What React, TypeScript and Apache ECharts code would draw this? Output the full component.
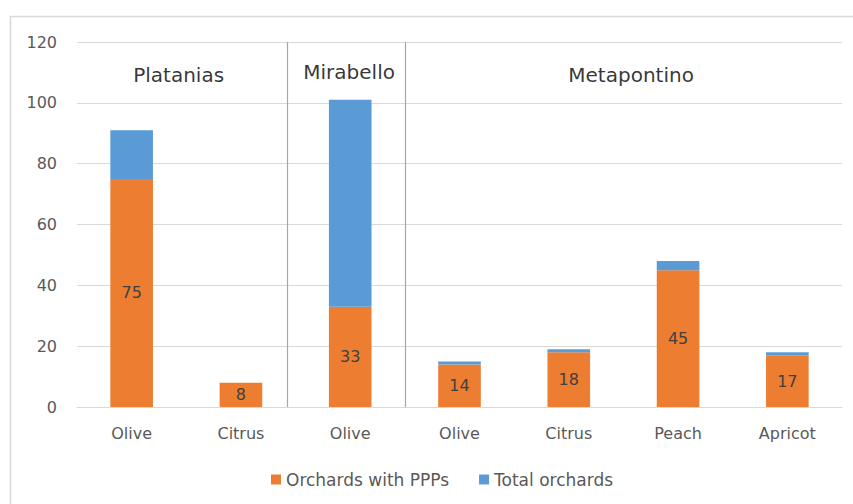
import React, { useEffect, useRef } from "react";
import * as echarts from "echarts";

const categories = ["Olive", "Citrus", "Olive", "Olive", "Citrus", "Peach", "Apricot"];
const pppValues = [75, 8, 33, 14, 18, 45, 17];
const totalValues = [91, 8, 101, 15, 19, 48, 18];
const yTicks = { min: 0, max: 120, interval: 20 };
const groupNames = ["Platanias", "Mirabello", "Metapontino"];
const groupX = [0.43, 1.99, 4.57];
const groupY = [109, 110.3, 109];
const separators = [1.42, 2.5];

const FONT = "'DejaVu Sans', sans-serif";

export default function App() {
  const ref = useRef<HTMLDivElement>(null);
  useEffect(() => {
    if (!ref.current) return;
    const chart = echarts.init(ref.current, null, { renderer: "svg" });
    const remainder = totalValues.map((t, i) => t - pppValues[i]);
    chart.setOption({
      animation: false,
      textStyle: { fontFamily: FONT },
      graphic: [
        {
          type: "rect",
          shape: { x: 10.5, y: 16.5, width: 870, height: 520 },
          style: { fill: "none", stroke: "#D9D9D9", lineWidth: 1.5 },
          z: -1,
        },
      ],
      grid: { left: 77, right: 11, top: 42, bottom: 97 },
      legend: {
        data: ["Orchards with PPPs", "Total orchards"],
        top: 466,
        left: 266,
        icon: "rect",
        itemWidth: 10,
        itemHeight: 10,
        itemGap: 30,
        textStyle: { color: "#595959", fontSize: 17, fontFamily: FONT },
      },
      xAxis: [
        {
          type: "category",
          data: categories,
          axisLine: { lineStyle: { color: "#D9D9D9" } },
          axisTick: { show: false },
          axisLabel: { color: "#595959", fontSize: 16, margin: 18, fontFamily: FONT },
        },
        { type: "value", min: -0.5, max: 6.5, show: false },
      ],
      yAxis: {
        type: "value",
        min: yTicks.min,
        max: yTicks.max,
        interval: yTicks.interval,
        axisLine: { show: false },
        axisTick: { show: false },
        splitLine: { lineStyle: { color: "#D9D9D9" } },
        axisLabel: { color: "#595959", fontSize: 16, margin: 20, fontFamily: FONT },
      },
      series: [
        {
          name: "Orchards with PPPs",
          type: "bar",
          stack: "s",
          data: pppValues,
          barWidth: "39%",
          itemStyle: { color: "#ED7D31" },
          label: {
            show: true,
            position: "inside",
            color: "#404040",
            fontSize: 16,
            fontFamily: FONT,
          },
        },
        {
          name: "Total orchards",
          type: "bar",
          stack: "s",
          data: remainder,
          barWidth: "39%",
          itemStyle: { color: "#5B9BD5" },
        },
        {
          type: "scatter",
          xAxisIndex: 1,
          symbolSize: 1,
          itemStyle: { color: "rgba(0,0,0,0)" },
          data: groupNames.map((n, i) => [groupX[i], groupY[i], n]),
          label: {
            show: true,
            position: "inside",
            formatter: (p: any) => p.value[2],
            color: "#000000",
            fontSize: 20,
            fontFamily: FONT,
          },
          markLine: {
            silent: true,
            symbol: ["none", "none"],
            label: { show: false },
            lineStyle: { color: "#A6A6A6", type: "solid", width: 1.2 },
            data: separators.map((v) => ({ xAxis: v })),
          },
        },
      ],
    });
    return () => chart.dispose();
  }, []);
  return (
    <div
      ref={ref}
      style={{ position: "fixed", left: 0, top: 0, width: 853, height: 504, background: "#fff" }}
    />
  );
}
